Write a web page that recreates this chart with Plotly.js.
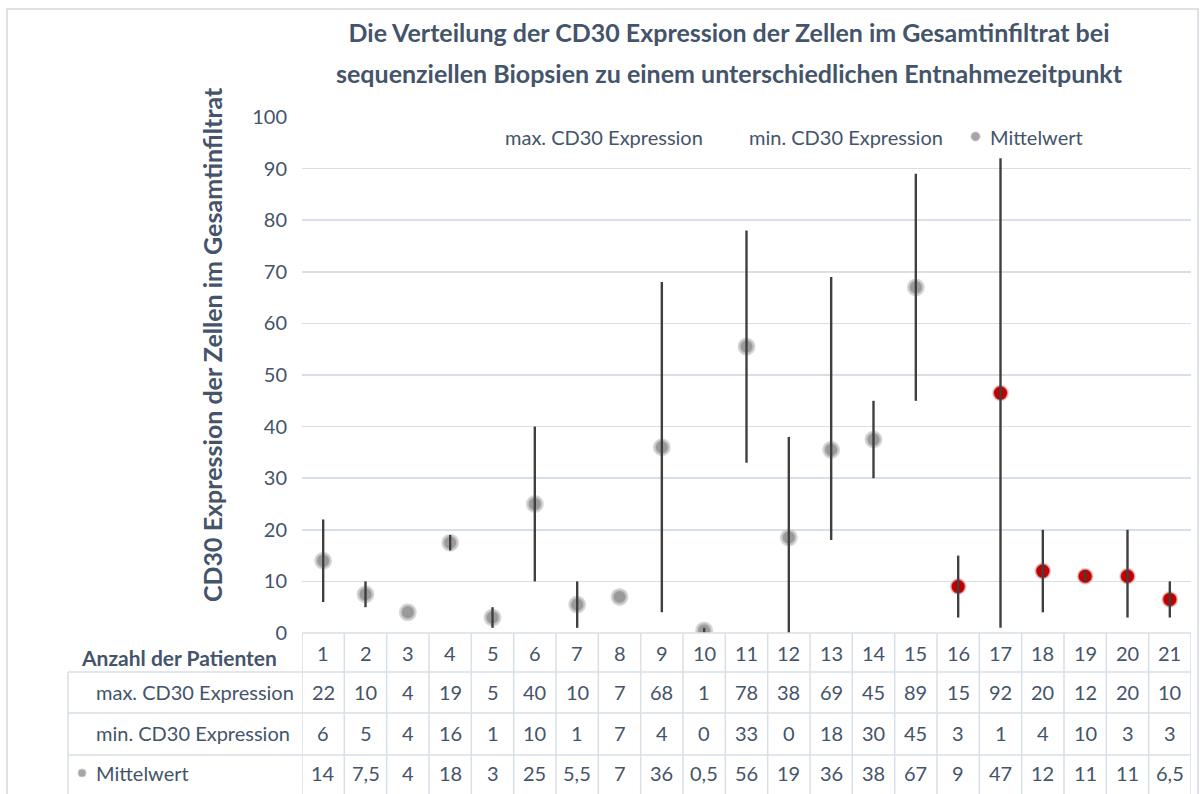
<!DOCTYPE html>
<html>
<head>
<meta charset="utf-8">
<script src="https://cdn.plot.ly/plotly-3.0.1.min.js"></script>
<style>html,body{margin:0;padding:0;background:#fff;}#chart{width:1203px;height:794px;}</style>
</head>
<body>
<div id="chart"></div>
<script>
// ---- data ----
const patienten = [1,2,3,4,5,6,7,8,9,10,11,12,13,14,15,16,17,18,19,20,21];
const maxCD30 = [22,10,4,19,5,40,10,7,68,1,78,38,69,45,89,15,92,20,12,20,10];
const minCD30 = [6,5,4,16,1,10,1,7,4,0,33,0,18,30,45,3,1,4,10,3,3];
const mittelwertLabel = ["14","7,5","4","18","3","25","5,5","7","36","0,5","56","19","36","38","67","9","47","12","11","11","6,5"];
const mittelwertPlot = [14,7.5,4,17.5,3,25,5.5,7,36,0.5,55.5,18.5,35.5,37.5,67,9,46.5,12,11,11,6.5];
const markerGroup = ["g","g","g","g","g","g","g","g","g","g","g","g","g","g","g","r","r","r","r","r","r"];

const titleLine1 = "Die Verteilung der CD30 Expression der Zellen im Gesamtinfiltrat bei";
const titleLine2 = "sequenziellen Biopsien zu einem unterschiedlichen Entnahmezeitpunkt";
const yTitle = "CD30 Expression der Zellen im Gesamtinfiltrat";
const rowLabels = ["max. CD30 Expression","min. CD30 Expression","Mittelwert"];
const headLabel = "Anzahl der Patienten";

// ---- styling ----
const TXT = "#44546a";
const GRID = "#d9dfe7";
const FONT = "Lato, 'Open Sans', sans-serif";
const W = 1203, H = 794;
const L = 302, R = 12, T = 117, B = 161;
const pw = W - L - R, ph = H - T - B;
const px2x = p => (p - L) / pw;
const py2y = p => (H - B - p) / ph;

// high-low line trace
const lx = [], ly = [];
patienten.forEach((p, i) => { lx.push(p, p, null); ly.push(minCD30[i], maxCD30[i], null); });

const grayX = [], grayY = [], redX = [], redY = [];
patienten.forEach((p, i) => {
  if (markerGroup[i] === "r") { redX.push(p); redY.push(mittelwertPlot[i]); }
  else { grayX.push(p); grayY.push(mittelwertPlot[i]); }
});

const traces = [
  {x: grayX, y: grayY, type: "scatter", mode: "markers", hoverinfo: "skip", showlegend: false,
   marker: {size: 15, color: "#9a9a9a", line: {color: "rgba(205,205,205,0.75)", width: 3}}},
  {x: redX, y: redY, type: "scatter", mode: "markers", hoverinfo: "skip", showlegend: false,
   marker: {size: 15, color: "#c00000", line: {color: "rgba(225,200,200,0.7)", width: 2}}},
  {x: lx, y: ly, type: "scatter", mode: "lines", hoverinfo: "skip", showlegend: false,
   line: {color: "#3f3f3f", width: 2.4}}
];

const shapes = [];
const annotations = [];
// outer frame
shapes.push({type: "rect", xref: "paper", yref: "paper", x0: px2x(7), x1: px2x(1198), y0: py2y(9), y1: py2y(810),
  line: {color: "#dde2e9", width: 2}, layer: "below"});

// table grid
const rowLines = [633, 672, 713, 755];
const bottomPx = 800;
for (let k = 0; k <= patienten.length; k++) {
  shapes.push({type: "line", xref: "x", yref: "paper", x0: k + 0.5, x1: k + 0.5, y0: py2y(633), y1: py2y(bottomPx),
    line: {color: GRID, width: 1.5}});
}
shapes.push({type: "line", xref: "paper", yref: "paper", x0: 0, x1: 1, y0: py2y(633), y1: py2y(633), line: {color: GRID, width: 1.5}});
for (let r = 1; r < rowLines.length; r++) {
  shapes.push({type: "line", xref: "paper", yref: "paper", x0: px2x(68), x1: 1, y0: py2y(rowLines[r]), y1: py2y(rowLines[r]), line: {color: GRID, width: 1.5}});
}
shapes.push({type: "line", xref: "paper", yref: "paper", x0: px2x(68), x1: px2x(68), y0: py2y(672), y1: py2y(bottomPx), line: {color: GRID, width: 1.5}});

// table text
const rowY = [653, 692, 733, 773];
const rowsData = [patienten.map(String), maxCD30.map(String), minCD30.map(String), mittelwertLabel];
rowsData.forEach((row, r) => {
  row.forEach((t, i) => {
    annotations.push({x: patienten[i], xref: "x", y: py2y(rowY[r]), yref: "paper", text: t, showarrow: false,
      font: {family: FONT, size: 20, color: TXT}, xanchor: "center", yanchor: "middle"});
  });
});
annotations.push({x: px2x(279), xref: "paper", y: py2y(657), yref: "paper", text: "<b>" + headLabel + "</b>", showarrow: false,
  font: {family: FONT, size: 21, color: TXT}, xanchor: "right", yanchor: "middle"});
rowLabels.forEach((t, r) => {
  annotations.push({x: px2x(94), xref: "paper", y: py2y(rowY[r + 1]), yref: "paper", text: t, showarrow: false,
    font: {family: FONT, size: 20, color: TXT}, xanchor: "left", yanchor: "middle"});
});
// legend dot in table
shapes.push({type: "circle", xref: "paper", yref: "paper", x0: px2x(78), x1: px2x(86), y0: py2y(769), y1: py2y(777),
  fillcolor: "#a6a6a6", line: {color: "#c8c8c8", width: 1}});

// legend
annotations.push({x: px2x(503), xref: "paper", y: py2y(137), yref: "paper", text: "max. CD30 Expression", showarrow: false,
  font: {family: FONT, size: 20, color: TXT}, xanchor: "left", yanchor: "middle"});
annotations.push({x: px2x(747), xref: "paper", y: py2y(137), yref: "paper", text: "min. CD30 Expression", showarrow: false,
  font: {family: FONT, size: 20, color: TXT}, xanchor: "left", yanchor: "middle"});
annotations.push({x: px2x(988), xref: "paper", y: py2y(137), yref: "paper", text: "Mittelwert", showarrow: false,
  font: {family: FONT, size: 20, color: TXT}, xanchor: "left", yanchor: "middle"});
shapes.push({type: "circle", xref: "paper", yref: "paper", x0: px2x(971), x1: px2x(980), y0: py2y(132), y1: py2y(141),
  fillcolor: "#a6a6a6", line: {color: "#c8c8c8", width: 1}});

// title line 2 and y title
annotations.push({x: px2x(729), xref: "paper", y: py2y(73), yref: "paper", text: "<b>" + titleLine2 + "</b>", showarrow: false,
  font: {family: FONT, size: 25, color: TXT}, xanchor: "center", yanchor: "middle"});
annotations.push({x: px2x(212), xref: "paper", y: py2y(345), yref: "paper", text: "<b>" + yTitle + "</b>", showarrow: false,
  textangle: -90, font: {family: FONT, size: 25, color: TXT}, xanchor: "center", yanchor: "middle"});

const layout = {
  width: W, height: H,
  margin: {l: L, r: R, t: T, b: B},
  paper_bgcolor: "#ffffff", plot_bgcolor: "#ffffff",
  title: {text: "<b>" + titleLine1 + "</b>", x: 729 / W, xanchor: "center", y: 1 - 33 / H, yanchor: "middle",
    font: {family: FONT, size: 25, color: TXT}},
  xaxis: {range: [0.5, 21.5], showgrid: false, zeroline: false, showticklabels: false, ticks: "", showline: false, fixedrange: true},
  yaxis: {range: [0, 100], dtick: 10, tick0: 0, showgrid: true, gridcolor: GRID, gridwidth: 1.5, zeroline: false,
    ticks: "", ticklabelstandoff: 14, tickfont: {family: FONT, size: 20, color: TXT}, showline: false, fixedrange: true},
  shapes: shapes,
  annotations: annotations,
  showlegend: false
};

Plotly.newPlot("chart", traces, layout, {displayModeBar: false, staticPlot: true});
</script>
</body>
</html>
